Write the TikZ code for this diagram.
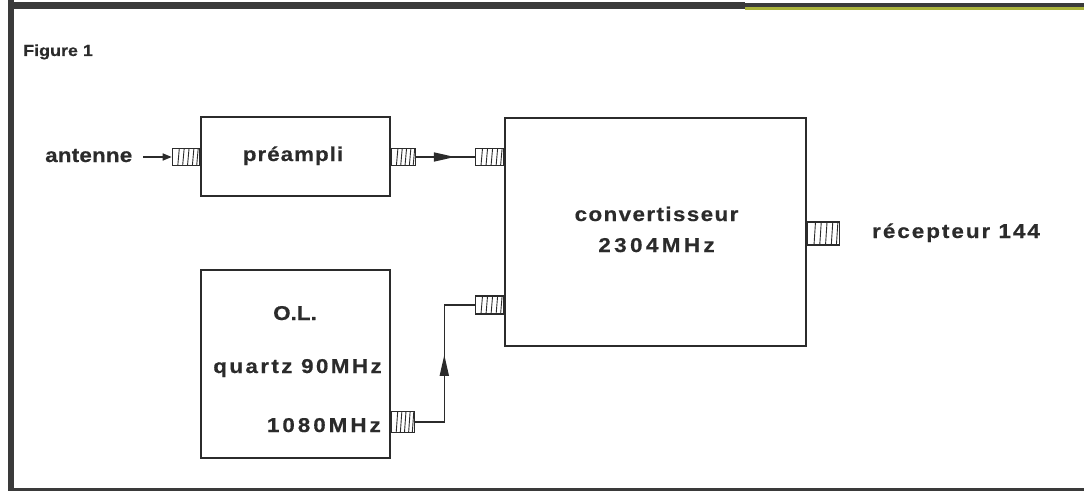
\documentclass[tikz,border=0pt]{standalone}
\usepackage{fontspec}
\setmainfont{Liberation Sans}
\newfontfamily\labfont{Liberation Sans Bold}[FakeBold=0.5, FakeStretch=1.12]
\usetikzlibrary{arrows.meta,calc,decorations.markings}
\definecolor{ink}{HTML}{2B2B2B}
\definecolor{frame}{HTML}{3A3A3A}
\definecolor{olive}{HTML}{A9B23A}
\newcommand{\trk}[2]{{\addfontfeatures{LetterSpace=#1}#2}}
\tikzset{
  blk/.style={draw=ink, line width=1.8pt, rectangle, inner sep=0pt},
  conn/.style={draw=ink, line width=1.4pt, fill=white, rectangle, inner sep=0pt,
    path picture={
      \foreach \i in {0.2,0.38,0.56,0.74,0.9}{
        \draw[ink, line width=0.9pt]
          ($(path picture bounding box.south west)!\i!(path picture bounding box.south east)$)
          -- ($(path picture bounding box.north west)!\i!(path picture bounding box.north east)+(1.5,0)$);
      }}},
  lbl/.style={text=ink, inner sep=0pt, font=\fontsize{20}{24}\labfont},
  wire/.style={draw=ink, line width=1.6pt},
}
\begin{document}
\begin{tikzpicture}[x=1pt,y=-1pt]
\useasboundingbox (0,0) rectangle (1084,492);
% frame
\fill[frame] (8,0) rectangle (14,491);
\fill[frame] (8,2) rectangle (745,9);
\fill[frame] (745,3) rectangle (1084,7);
\fill[olive] (745,7.5) rectangle (1084,10.5);
\fill[frame] (8,487.5) rectangle (1084,491);

% blocks
\node[blk, minimum width=189pt, minimum height=79pt] (pre) at (295.5,156.5) {};
\node[blk, minimum width=301pt, minimum height=228pt] (conv) at (655.5,232) {};
\node[blk, minimum width=189pt, minimum height=188pt] (ol) at (295.5,364) {};

% connectors
\node[conn, minimum width=27pt, minimum height=17pt, anchor=east] (cin) at (pre.west |- 0,157) {};
\node[conn, minimum width=24pt, minimum height=17pt, anchor=west] (cpo) at (pre.east |- 0,157) {};
\node[conn, minimum width=28pt, minimum height=17pt, anchor=east] (cc1) at (conv.west |- 0,157) {};
\node[conn, minimum width=28pt, minimum height=18pt, anchor=east] (cc2) at (conv.west |- 0,305) {};
\node[conn, minimum width=23pt, minimum height=21pt, anchor=west] (col) at (ol.east |- 0,422) {};
\node[conn, minimum width=32pt, minimum height=23pt, anchor=west] (cco) at (conv.east |- 0,233.5) {};

% labels
\node[lbl, font=\fontsize{16}{20}\labfont, anchor=base west] (fig) at (23,56) {Figure 1};
\node[lbl, anchor=base west] (ant) at (45,162) {\trk{1}{antenne}};
\node[lbl, anchor=base] (tpre) at (293,161) {\trk{5}{préampli}};
\node[lbl, anchor=base] (tconv) at (656.5,221) {\trk{7}{convertisseur}};
\node[lbl, anchor=base] (tfreq) at (656.5,252) {\trk{17}{2304MHz}};
\node[lbl, anchor=base] (tol) at (295,320) {O.L.};
\node[lbl, anchor=base] (tq) at (297.5,373) {\trk{12}{quartz 90MHz}};
\node[lbl, anchor=base east] (t1080) at (381,432) {\trk{15}{1080MHz}};
\node[lbl, anchor=base west] (trec) at (872,238) {\trk{10}{récepteur 144}};

% wires
\coordinate (astart) at (143,157);
\draw[wire, -{Triangle[length=9pt,width=7pt]}] (astart) -- (cin.west);
\draw[wire, postaction={decorate, decoration={markings,
   mark=at position 0.66 with {\arrow{Triangle[length=21pt,width=9pt]}}}}]
   (cpo.east) -- (cc1.west);
\draw[wire, postaction={decorate, decoration={markings,
   mark=at position 0.545 with {\arrow{Triangle[length=21pt,width=9pt]}}}}]
   (col.east) -- ++(29,0) |- (cc2.west);
\end{tikzpicture}
\end{document}
